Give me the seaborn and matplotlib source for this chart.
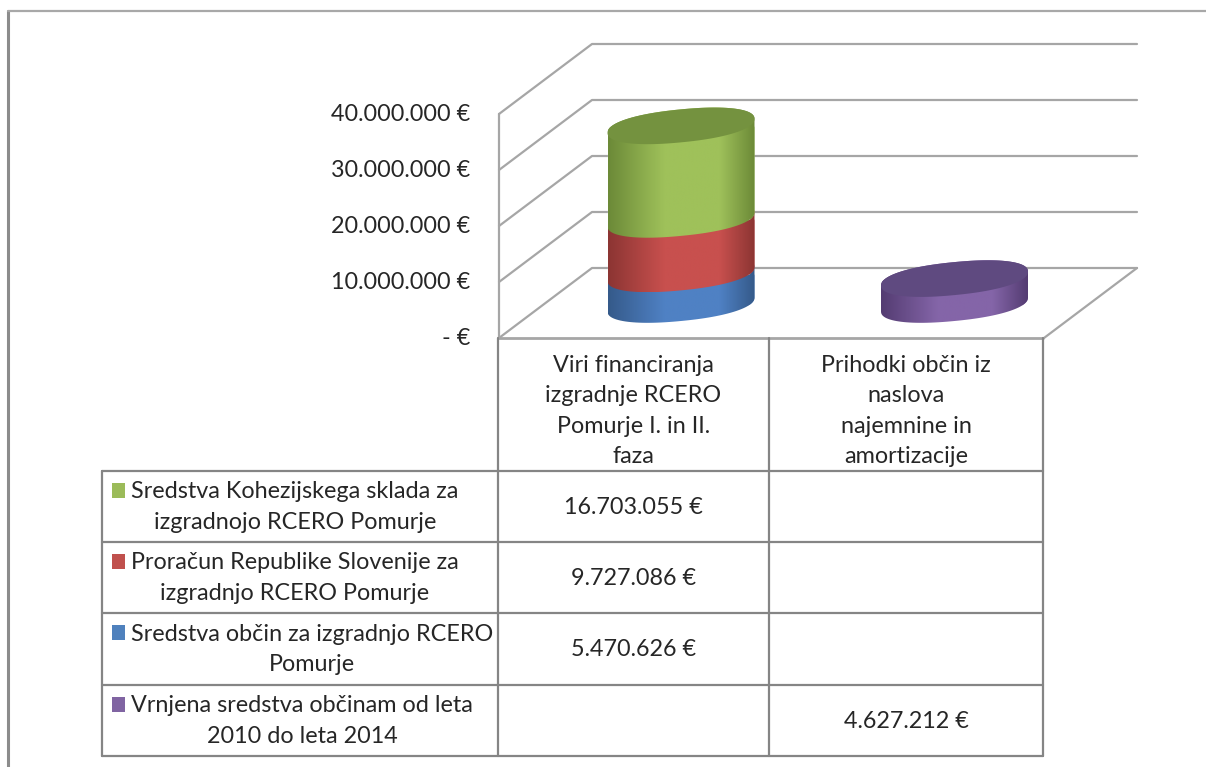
import numpy as np
import matplotlib
matplotlib.use("Agg")
import matplotlib.pyplot as plt
from matplotlib.patches import PathPatch, Rectangle
from matplotlib.path import Path
from matplotlib.colors import LinearSegmentedColormap
import seaborn as sns

# Data
categories = ["Viri financiranja\nizgradnje RCERO\nPomurje I. in II.\nfaza",
              "Prihodki občin iz\nnaslova\nnajemnine in\namortizacije"]
y_ticks = [0, 10000000, 20000000, 30000000, 40000000]

series_labels = ["Sredstva občin za izgradnjo RCERO\nPomurje",
                 "Proračun Republike Slovenije za\nizgradnjo RCERO Pomurje",
                 "Sredstva Kohezijskega sklada za\nizgradnojo RCERO Pomurje",
                 "Vrnjena sredstva občinam od leta\n2010 do leta 2014"]
series_values = [5470626, 9727086, 16703055, 4627212]
series_cat = [0, 0, 0, 1]

# barve: rob, sredina, pokrov, legenda
edge_colors = ["#355a8a", "#8c3533", "#6c8a38", "#543c72"]
mid_colors = ["#4f81c4", "#c8504e", "#9fc15a", "#8465a8"]
cap_colors = [None, None, "#74923f", "#5f4a80"]
swatch_colors = ["#4f81bd", "#c0504d", "#9bbb59", "#8064a2"]
table_order = [2, 1, 0, 3]

grey = "#a6a6a6"
text_color = "#262626"
font_size = 16.8
line_sp = 1.55

sns.set_theme(style="white")
plt.rcParams["font.family"] = ["Lato", "DejaVu Sans"]

W, H = 1206, 767
fig = plt.figure(figsize=(W / 100, H / 100), dpi=100, facecolor="white")

# Ozadje v pikslih (okvir, stene, tabela, besedilo)
bg = fig.add_axes([0, 0, 1, 1])
bg.set_xlim(0, W)
bg.set_ylim(H, 0)
bg.axis("off")

bg.plot([8, 8], [11, H], color="#8c8c8c", lw=2.2)
bg.plot([8, W], [11, 11], color="#a8a8a8", lw=1.6)

# Stene grafikona
px_per_euro = 56 / 10000000
front_x, back_x, right_x = 499, 592, 1137
for t in y_ticks:
    yf = 338 - t * px_per_euro
    yb = yf - 70
    bg.plot([front_x, back_x, right_x], [yf, yb, yb], color=grey, lw=1.6, zorder=1)
    label = "- €" if t == 0 else f"{t:,.0f}".replace(",", ".") + " €"
    bg.text(470, yf + 0.5, label, ha="right", va="center", fontsize=font_size, color=text_color)
bg.plot([front_x, front_x], [338, 338 - 40000000 * px_per_euro], color=grey, lw=1.6, zorder=1)
bg.plot([1044, right_x], [338, 268], color=grey, lw=1.6, zorder=1)

# Tabela
col_x = [498, 769, 1043]
row_y = [471, 542, 613, 685, 756]
tc = "#858585"
bg.plot([col_x[0], col_x[2]], [338, 338], color=grey, lw=2)
for x in col_x:
    bg.plot([x, x], [338, 471 if x == col_x[2] else 756], color=tc, lw=1.6)
bg.plot([col_x[2], col_x[2]], [471, 756], color=tc, lw=1.6)
bg.plot([102, 102], [471, 756], color=tc, lw=1.6)
for y in row_y:
    bg.plot([102, col_x[2]], [y, y], color=tc, lw=1.6)

for i, c in enumerate(categories):
    bg.text((col_x[i] + col_x[i + 1]) / 2, 411, c, ha="center", va="center", ma="center",
            fontsize=font_size, color=text_color, linespacing=line_sp)

for r, s in enumerate(table_order):
    y0, y1 = row_y[r], row_y[r + 1]
    bg.add_patch(Rectangle((112, y0 + 12), 13, 14.5, color=swatch_colors[s], lw=0))
    bg.text(131, (y0 + y1) / 2 + 0.5, series_labels[s], ha="left", va="center", ma="center",
            fontsize=font_size, color=text_color, linespacing=line_sp)
    c = series_cat[s]
    bg.text((col_x[c] + col_x[c + 1]) / 2, (y0 + y1) / 2 + 1,
            f"{series_values[s]:,.0f}".replace(",", ".") + " €",
            ha="center", va="center", fontsize=font_size, color=text_color)

# Valji - os v evrih, prekriva celo sliko
ax = fig.add_axes([0, 0, 1, 1], facecolor="none")
bar_step = 273.5
bar_width = 147 / bar_step
base_y = 304.5
x_lim = (-681 / bar_step, (W - 681) / bar_step)
y_lim = ((base_y - H) / px_per_euro, base_y / px_per_euro)

depth = 16.5 / px_per_euro
shear = 7 / px_per_euro
power = 0.9


def ring(cx, half, cy, t):
    # malo zaobljena elipsa, nagnjena desno navzgor
    ct = np.sign(np.cos(t)) * np.abs(np.cos(t)) ** power
    st = np.sign(np.sin(t)) * np.abs(np.sin(t)) ** power
    return np.column_stack([cx + half * ct, cy + depth * st + shear * ct])


bottoms = [0, 0]
for s in range(len(series_values)):
    c = series_cat[s]
    sns.barplot(x=[categories[c]], y=[series_values[s]], order=categories, color=mid_colors[s],
                saturation=1, width=bar_width, bottom=bottoms[c], ax=ax, zorder=3 + s)
    bar = ax.patches[-1]
    cx = bar.get_x() + bar.get_width() / 2
    half = bar.get_width() / 2
    y0 = bar.get_y()
    y1 = y0 + bar.get_height()

    # telo valja: spodnji sprednji lok + zgornji zadnji lok
    front = ring(cx, half, y0, np.linspace(np.pi, 2 * np.pi, 60))
    back = ring(cx, half, y1, np.linspace(0, np.pi, 60))
    pts = np.vstack([front, back, front[:1]])
    clip = PathPatch(Path(pts), transform=ax.transData, facecolor="none", edgecolor="none")
    ax.add_patch(clip)
    bar.set_clip_path(clip)

    cmap = LinearSegmentedColormap.from_list(
        "body", [edge_colors[s], mid_colors[s], mid_colors[s], edge_colors[s]])
    grad = np.interp(np.linspace(0, 1, 256), [0, 0.38, 0.6, 0.76, 1], [0, 0.33, 0.5, 0.667, 1])
    top = pts[:, 1].max()
    low = pts[:, 1].min()
    im = ax.imshow(grad[None, :], extent=[cx - half, cx + half, low, top], cmap=cmap, vmin=0, vmax=1,
                   aspect="auto", zorder=3 + s, interpolation="bilinear")
    im.set_clip_path(clip)

    if cap_colors[s] is not None:
        lid = ring(cx, half, y1, np.linspace(0, 2 * np.pi, 120))
        ax.add_patch(PathPatch(Path(lid), facecolor=cap_colors[s], edgecolor="none", zorder=8 + s))
    bottoms[c] += series_values[s]

ax.set_xlim(*x_lim)
ax.set_ylim(*y_lim)
ax.axis("off")

fig.savefig("out.png", dpi=100, facecolor="white")
